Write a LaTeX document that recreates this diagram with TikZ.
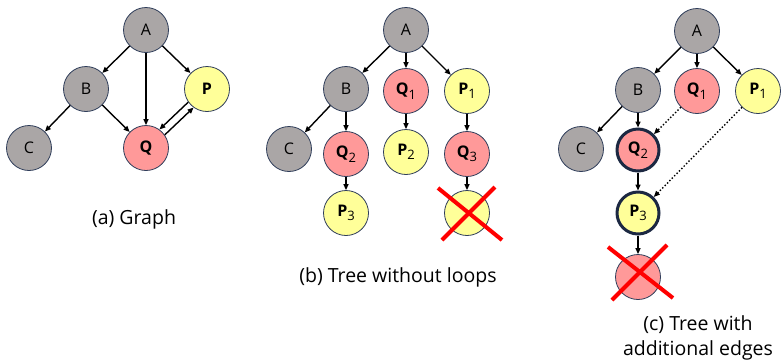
\documentclass[tikz,border=0pt]{standalone}
\usepackage{fontspec}
\setmainfont{Open Sans}
\usetikzlibrary{arrows.meta,calc}
\definecolor{gr}{RGB}{170,166,166}
\definecolor{pk}{RGB}{255,153,153}
\definecolor{yl}{RGB}{255,255,153}
\definecolor{bd}{RGB}{47,61,90}
\definecolor{thk}{RGB}{28,40,66}
\newcommand{\sbs}[1]{\raisebox{-4.5pt}{\fontsize{13}{13}\selectfont\mdseries #1}}
\begin{document}
\begin{tikzpicture}[x=1pt,y=-1pt,
  nd/.style={circle,draw=bd,line width=0.8pt,minimum size=45pt,inner sep=0pt,font=\fontsize{16}{16}\selectfont},
  g/.style={nd,fill=gr},
  q/.style={nd,fill=pk,font=\fontsize{16}{16}\selectfont\bfseries},
  p/.style={nd,fill=yl,font=\fontsize{16}{16}\selectfont\bfseries},
  hl/.style={draw=thk,line width=3pt,minimum size=42pt},
  ar/.style={-{Triangle[length=6pt,width=5pt]},line width=1.4pt},
  dar/.style={ar,dotted},
  xx/.style={red,line width=4pt},
  captxt/.style={font=\fontsize{19.5}{25}\selectfont,align=center}]
\useasboundingbox (0,0) rectangle (781,360);
% (a)
\node[g] (aA) at (146,30) {A};
\node[g] (aB) at (86,89) {B};
\node[p] (aP) at (207,89) {P};
\node[g] (aC) at (29,148) {C};
\node[q] (aQ) at (146,148) {Q};
\draw[ar] (aA) -- (aB);
\draw[ar] (aA) -- (aQ);
\draw[ar] (aA) -- (aP);
\draw[ar] (aB) -- (aC);
\draw[ar] (aB) -- (aQ);
\draw[ar] (aP.215) -- (aQ.54);
\draw[ar] (aQ.35) -- (aP.234);
\node[captxt] (capa) at (134,219) {(a) Graph};
% (b)
\node[g] (bA) at (406,30) {A};
\node[g] (bB) at (346,89) {B};
\node[q] (bQ1) at (406,91) {Q\sbs{1}};
\node[p] (bP1) at (467,91) {P\sbs{1}};
\node[g] (bC) at (289,149) {C};
\node[q] (bQ2) at (346,154) {Q\sbs{2}};
\node[p] (bP2) at (406,152) {P\sbs{2}};
\node[q] (bQ3) at (467,154) {Q\sbs{3}};
\node[p] (bP3) at (346,213) {P\sbs{3}};
\node[p] (bX) at (467,213) {};
\draw[ar] (bA) -- (bB);
\draw[ar] (bA) -- (bQ1);
\draw[ar] (bA) -- (bP1);
\draw[ar] (bB) -- (bC);
\draw[ar] (bB) -- (bQ2);
\draw[ar] (bQ1) -- (bP2);
\draw[ar] (bP1) -- (bQ3);
\draw[ar] (bQ2) -- (bP3);
\draw[ar] (bQ3) -- (bX);
\draw[xx] ($(bX)+(-29,-25)$) -- ($(bX)+(35,27)$);
\draw[xx] ($(bX)+(28,-26)$) -- ($(bX)+(-25,27)$);
\node[captxt] (capb) at (398,277) {(b) Tree without loops};
% (c)
\node[g] (cA) at (697,31) {A};
\node[g] (cB) at (638,90) {B};
\node[q] (cQ1) at (697,91) {Q\sbs{1}};
\node[p] (cP1) at (758,91) {P\sbs{1}};
\node[g] (cC) at (581,149) {C};
\node[q,hl] (cQ2) at (638,150) {Q\sbs{2}};
\node[p,hl] (cP3) at (638,213) {P\sbs{3}};
\node[q] (cX) at (638,277) {};
\draw[ar] (cA) -- (cB);
\draw[ar] (cA) -- (cQ1);
\draw[ar] (cA) -- (cP1);
\draw[ar] (cB) -- (cC);
\draw[ar] (cB) -- (cQ2);
\draw[ar] (cQ2) -- (cP3);
\draw[ar] (cP3) -- (cX);
\draw[dar] (cQ1) -- (cQ2);
\draw[dar] (cP1) -- (cP3);
\draw[xx] ($(cX)+(-30,-30)$) -- ($(cX)+(35,21)$);
\draw[xx] ($(cX)+(29,-32)$) -- ($(cX)+(-26,23)$);
\node[captxt] (capc) at (698,338) {(c) Tree with\\additional edges};
\end{tikzpicture}
\end{document}
